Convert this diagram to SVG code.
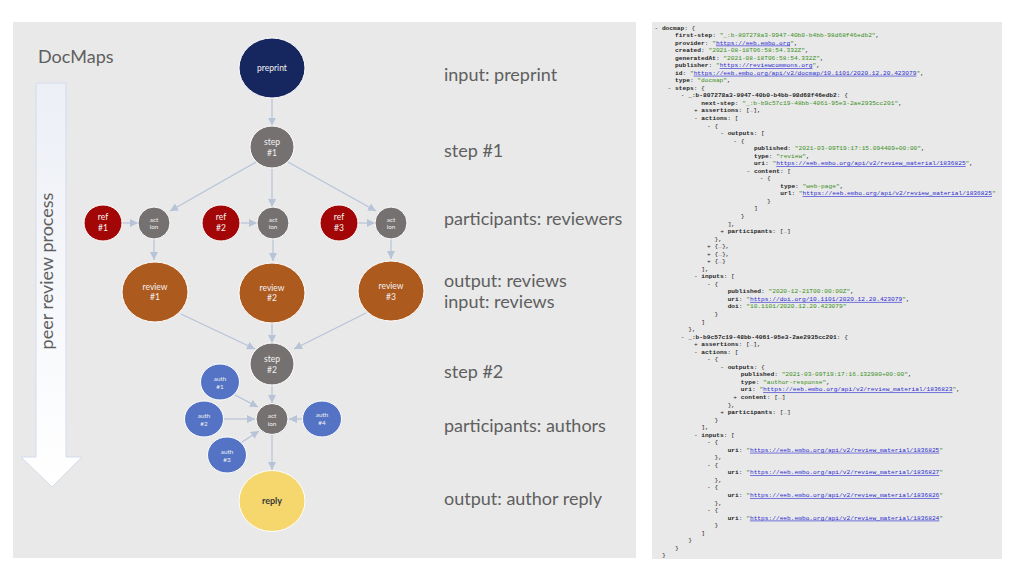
<svg xmlns="http://www.w3.org/2000/svg" width="1024" height="576" viewBox="0 0 1024 576">
<style>
.panel{fill:#e9e9e9}
.lbl{font-family:Lato,"Open Sans",sans-serif;font-size:18px;fill:#5f5f5f}
.nt{font-family:Lato,"Open Sans",sans-serif;fill:#f2f2f2;text-anchor:middle}
.n8{font-size:8.5px}
.n6{font-size:6.3px}
.node{stroke:#ffffff;stroke-width:1}
.conn line{stroke:#b7c3d7;stroke-width:1.2;fill:none;marker-end:url(#ah)}
.c{font-family:"Liberation Mono",monospace;font-size:6.2px;fill:#1e1e1e}
.k{font-weight:bold}
.s{fill:#3b8f1c}
.u{fill:#2c2cd0;text-decoration:underline}
.g{fill:#777777}
</style>
<defs>
<marker id="ah" markerUnits="userSpaceOnUse" markerWidth="8" markerHeight="8" refX="8" refY="4" orient="auto">
<path d="M0,0 L8,4 L0,8 z" fill="#b7c3d7"/>
</marker>
<linearGradient id="arrowgrad" x1="0" y1="0" x2="0" y2="1">
<stop offset="0" stop-color="#eceff6"/>
<stop offset="1" stop-color="#ffffff"/>
</linearGradient>
</defs>
<rect width="1024" height="576" fill="#ffffff"/>
<rect class="panel" x="13" y="22" width="623" height="536"/>
<rect class="panel" x="652" y="22" width="350" height="537"/>

<g id="title"><text class="lbl" x="38" y="63">DocMaps</text></g>
<g id="process-arrow">
<polygon points="36,83 66,83 66,457 82,457 52,487 21,457 36,457" fill="url(#arrowgrad)" stroke="#d3dbeb" stroke-width="1"/>
<text class="lbl" transform="translate(53,271) rotate(-90)" text-anchor="middle">peer review process</text>
</g>

<g id="labels">
<text class="lbl" x="444" y="81">input: preprint</text>
<text class="lbl" x="444" y="157">step #1</text>
<text class="lbl" x="444" y="225">participants: reviewers</text>
<text class="lbl" x="444" y="287">output: reviews</text>
<text class="lbl" x="444" y="308">input: reviews</text>
<text class="lbl" x="444" y="378">step #2</text>
<text class="lbl" x="444" y="432">participants: authors</text>
<text class="lbl" x="444" y="505">output: author reply</text>
</g>

<g id="connectors" class="conn">
<line x1="272" y1="98.5" x2="272" y2="125.5"/>
<line x1="256" y1="162" x2="170" y2="211"/>
<line x1="272" y1="168" x2="272" y2="207"/>
<line x1="288" y1="162" x2="376" y2="211"/>
<line x1="122" y1="223" x2="138" y2="223"/>
<line x1="240" y1="223" x2="257" y2="223"/>
<line x1="358" y1="223" x2="375" y2="223"/>
<line x1="154" y1="239" x2="154" y2="260"/>
<line x1="273" y1="239" x2="273" y2="261"/>
<line x1="391" y1="239" x2="391" y2="259"/>
<line x1="181" y1="314" x2="255" y2="349"/>
<line x1="272" y1="323" x2="272" y2="343"/>
<line x1="366" y1="313" x2="294" y2="349"/>
<line x1="272" y1="385" x2="272" y2="403"/>
<line x1="235" y1="395" x2="258" y2="407"/>
<line x1="224" y1="419" x2="255" y2="419"/>
<line x1="242" y1="442" x2="259" y2="431"/>
<line x1="302" y1="419" x2="289" y2="419"/>
<line x1="272" y1="435" x2="272" y2="470"/>
</g>

<g id="preprint"><ellipse class="node" cx="272" cy="68" rx="33" ry="30" fill="#16275f"/><text class="nt n8" x="272" y="71.3">preprint</text></g>
<g id="step1"><ellipse class="node" cx="272" cy="147" rx="22" ry="21" fill="#767171"/><text class="nt n8" x="272" y="144.7">step</text><text class="nt n8" x="272" y="155.7">#1</text></g>
<g id="ref1"><ellipse class="node" cx="103" cy="223" rx="19" ry="18" fill="#a30606"/><text class="nt n8" x="103" y="220.3">ref</text><text class="nt n8" x="103" y="231.3">#1</text></g>
<g id="action1"><circle class="node" cx="154" cy="223" r="16" fill="#767171"/><text class="nt n6" x="154" y="222.2">act</text><text class="nt n6" x="154" y="229">ion</text></g>
<g id="ref2"><ellipse class="node" cx="221" cy="223" rx="19" ry="18" fill="#a30606"/><text class="nt n8" x="221" y="220.3">ref</text><text class="nt n8" x="221" y="231.3">#2</text></g>
<g id="action2"><circle class="node" cx="273" cy="223" r="16" fill="#767171"/><text class="nt n6" x="273" y="222.2">act</text><text class="nt n6" x="273" y="229">ion</text></g>
<g id="ref3"><ellipse class="node" cx="339" cy="223" rx="19" ry="18" fill="#a30606"/><text class="nt n8" x="339" y="220.3">ref</text><text class="nt n8" x="339" y="231.3">#3</text></g>
<g id="action3"><circle class="node" cx="391" cy="223" r="16" fill="#767171"/><text class="nt n6" x="391" y="222.2">act</text><text class="nt n6" x="391" y="229">ion</text></g>
<g id="review1"><ellipse class="node" cx="155" cy="292" rx="33" ry="30" fill="#ad5a1f"/><text class="nt n8" x="155" y="289.7">review</text><text class="nt n8" x="155" y="300.3">#1</text></g>
<g id="review2"><ellipse class="node" cx="272" cy="293" rx="33" ry="30" fill="#ad5a1f"/><text class="nt n8" x="272" y="290.7">review</text><text class="nt n8" x="272" y="301.3">#2</text></g>
<g id="review3"><ellipse class="node" cx="391" cy="291" rx="33" ry="30" fill="#ad5a1f"/><text class="nt n8" x="391" y="289">review</text><text class="nt n8" x="391" y="299.7">#3</text></g>
<g id="step2"><ellipse class="node" cx="272" cy="364" rx="22" ry="21" fill="#767171"/><text class="nt n8" x="272" y="362.3">step</text><text class="nt n8" x="272" y="373">#2</text></g>
<g id="auth1"><ellipse class="node" cx="220" cy="382" rx="19.5" ry="18" fill="#5473c5"/><text class="nt n6" x="220" y="381.2">auth</text><text class="nt n6" x="220" y="388.9">#1</text></g>
<g id="auth2"><ellipse class="node" cx="204" cy="419" rx="19.5" ry="18" fill="#5473c5"/><text class="nt n6" x="204" y="418.2">auth</text><text class="nt n6" x="204" y="425.9">#2</text></g>
<g id="auth3"><ellipse class="node" cx="227" cy="455" rx="19.5" ry="18" fill="#5473c5"/><text class="nt n6" x="227" y="453.9">auth</text><text class="nt n6" x="227" y="461.5">#3</text></g>
<g id="auth4"><ellipse class="node" cx="322" cy="419" rx="19.5" ry="18" fill="#5473c5"/><text class="nt n6" x="322" y="417.2">auth</text><text class="nt n6" x="322" y="424.9">#4</text></g>
<g id="action4"><ellipse class="node" cx="272" cy="419" rx="16" ry="15.5" fill="#767171"/><text class="nt n6" x="272" y="418">act</text><text class="nt n6" x="272" y="425.5">ion</text></g>
<g id="reply"><ellipse class="node" cx="272" cy="501" rx="33" ry="30.5" fill="#f5d76e"/><text class="nt" x="272" y="503.7" style="font-size:9px;fill:#3a3a3a;font-weight:bold">reply</text></g>

<g id="code" class="c" xml:space="preserve">
<text x="654.46" y="29.5">- <tspan class="k">docmap</tspan>: {</text>
<text x="675.05" y="37.04"><tspan class="k">first-step</tspan>: <tspan class="s">"_:b-807278a3-9947-40b0-b4bb-98d68f46edb2"</tspan>,</text>
<text x="675.05" y="44.58"><tspan class="k">provider</tspan>: <tspan class="s">"</tspan><tspan class="u">https://eeb.embo.org</tspan><tspan class="s">"</tspan>,</text>
<text x="675.05" y="52.12"><tspan class="k">created</tspan>: <tspan class="s">"2021-08-18T06:58:54.332Z"</tspan>,</text>
<text x="675.05" y="59.66"><tspan class="k">generatedAt</tspan>: <tspan class="s">"2021-08-18T06:58:54.332Z"</tspan>,</text>
<text x="675.05" y="67.2"><tspan class="k">publisher</tspan>: <tspan class="s">"</tspan><tspan class="u">https://reviewcommons.org</tspan><tspan class="s">"</tspan>,</text>
<text x="675.05" y="74.74"><tspan class="k">id</tspan>: <tspan class="s">"</tspan><tspan class="u">https://eeb.embo.org/api/v2/docmap/10.1101/2020.12.20.423079</tspan><tspan class="s">"</tspan>,</text>
<text x="675.05" y="82.28"><tspan class="k">type</tspan>: <tspan class="s">"docmap"</tspan>,</text>
<text x="667.61" y="89.82">- <tspan class="k">steps</tspan>: {</text>
<text x="680.76" y="97.36">- <tspan class="k">_:b-807278a3-9947-40b0-b4bb-98d68f46edb2</tspan>: {</text>
<text x="701.35" y="104.9"><tspan class="k">next-step</tspan>: <tspan class="s">"_:b-b9c57c19-48bb-4061-95e3-2ae2935cc201"</tspan>,</text>
<text x="693.91" y="112.44">+ <tspan class="k">assertions</tspan>: [<tspan class="g">…</tspan>],</text>
<text x="693.91" y="119.98">- <tspan class="k">actions</tspan>: [</text>
<text x="707.06" y="127.52">- {</text>
<text x="720.21" y="135.06">- <tspan class="k">outputs</tspan>: [</text>
<text x="733.36" y="142.6">- {</text>
<text x="753.95" y="150.14"><tspan class="k">published</tspan>: <tspan class="s">"2021-03-09T19:17:15.094409+00:00"</tspan>,</text>
<text x="753.95" y="157.68"><tspan class="k">type</tspan>: <tspan class="s">"review"</tspan>,</text>
<text x="753.95" y="165.22"><tspan class="k">uri</tspan>: <tspan class="s">"</tspan><tspan class="u">https://eeb.embo.org/api/v2/review_material/1836825</tspan><tspan class="s">"</tspan>,</text>
<text x="746.51" y="172.76">- <tspan class="k">content</tspan>: [</text>
<text x="759.66" y="180.3">- {</text>
<text x="780.25" y="187.84"><tspan class="k">type</tspan>: <tspan class="s">"web-page"</tspan>,</text>
<text x="780.25" y="195.38"><tspan class="k">url</tspan>: <tspan class="s">"</tspan><tspan class="u">https://eeb.embo.org/api/v2/review_material/1836825</tspan><tspan class="s">"</tspan></text>
<text x="767.1" y="202.92">}</text>
<text x="753.95" y="210.46">]</text>
<text x="740.8" y="218">}</text>
<text x="727.65" y="225.54">],</text>
<text x="720.21" y="233.08">+ <tspan class="k">participants</tspan>: [<tspan class="g">…</tspan>]</text>
<text x="714.5" y="240.62">},</text>
<text x="707.06" y="248.16">+ {<tspan class="g">…</tspan>},</text>
<text x="707.06" y="255.7">+ {<tspan class="g">…</tspan>},</text>
<text x="707.06" y="263.24">+ {<tspan class="g">…</tspan>}</text>
<text x="701.35" y="270.78">],</text>
<text x="693.91" y="278.32">- <tspan class="k">inputs</tspan>: [</text>
<text x="707.06" y="285.86">- {</text>
<text x="727.65" y="293.4"><tspan class="k">published</tspan>: <tspan class="s">"2020-12-21T00:00:00Z"</tspan>,</text>
<text x="727.65" y="300.94"><tspan class="k">uri</tspan>: <tspan class="s">"</tspan><tspan class="u">https://doi.org/10.1101/2020.12.20.423079</tspan><tspan class="s">"</tspan>,</text>
<text x="727.65" y="308.48"><tspan class="k">doi</tspan>: <tspan class="s">"10.1101/2020.12.20.423079"</tspan></text>
<text x="714.5" y="316.02">}</text>
<text x="701.35" y="323.56">]</text>
<text x="688.2" y="331.1">},</text>
<text x="680.76" y="338.64">- <tspan class="k">_:b-b9c57c19-48bb-4061-95e3-2ae2935cc201</tspan>: {</text>
<text x="693.91" y="346.18">+ <tspan class="k">assertions</tspan>: [<tspan class="g">…</tspan>],</text>
<text x="693.91" y="353.72">- <tspan class="k">actions</tspan>: [</text>
<text x="707.06" y="361.26">- {</text>
<text x="720.21" y="368.8">- <tspan class="k">outputs</tspan>: {</text>
<text x="740.8" y="376.34"><tspan class="k">published</tspan>: <tspan class="s">"2021-03-09T19:17:16.132980+00:00"</tspan>,</text>
<text x="740.8" y="383.88"><tspan class="k">type</tspan>: <tspan class="s">"author-response"</tspan>,</text>
<text x="740.8" y="391.42"><tspan class="k">uri</tspan>: <tspan class="s">"</tspan><tspan class="u">https://eeb.embo.org/api/v2/review_material/1836823</tspan><tspan class="s">"</tspan>,</text>
<text x="733.36" y="398.96">+ <tspan class="k">content</tspan>: [<tspan class="g">…</tspan>]</text>
<text x="727.65" y="406.5">},</text>
<text x="720.21" y="414.04">+ <tspan class="k">participants</tspan>: [<tspan class="g">…</tspan>]</text>
<text x="714.5" y="421.58">}</text>
<text x="701.35" y="429.12">],</text>
<text x="693.91" y="436.66">- <tspan class="k">inputs</tspan>: [</text>
<text x="707.06" y="444.2">- {</text>
<text x="727.65" y="451.74"><tspan class="k">uri</tspan>: <tspan class="s">"</tspan><tspan class="u">https://eeb.embo.org/api/v2/review_material/1836825</tspan><tspan class="s">"</tspan></text>
<text x="714.5" y="459.28">},</text>
<text x="707.06" y="466.82">- {</text>
<text x="727.65" y="474.36"><tspan class="k">uri</tspan>: <tspan class="s">"</tspan><tspan class="u">https://eeb.embo.org/api/v2/review_material/1836827</tspan><tspan class="s">"</tspan></text>
<text x="714.5" y="481.9">},</text>
<text x="707.06" y="489.44">- {</text>
<text x="727.65" y="496.98"><tspan class="k">uri</tspan>: <tspan class="s">"</tspan><tspan class="u">https://eeb.embo.org/api/v2/review_material/1836826</tspan><tspan class="s">"</tspan></text>
<text x="714.5" y="504.52">},</text>
<text x="707.06" y="512.06">- {</text>
<text x="727.65" y="519.6"><tspan class="k">uri</tspan>: <tspan class="s">"</tspan><tspan class="u">https://eeb.embo.org/api/v2/review_material/1836824</tspan><tspan class="s">"</tspan></text>
<text x="714.5" y="527.14">}</text>
<text x="701.35" y="534.68">]</text>
<text x="688.2" y="542.22">}</text>
<text x="675.05" y="549.76">}</text>
<text x="661.9" y="557.3">}</text>
</g>
</svg>
